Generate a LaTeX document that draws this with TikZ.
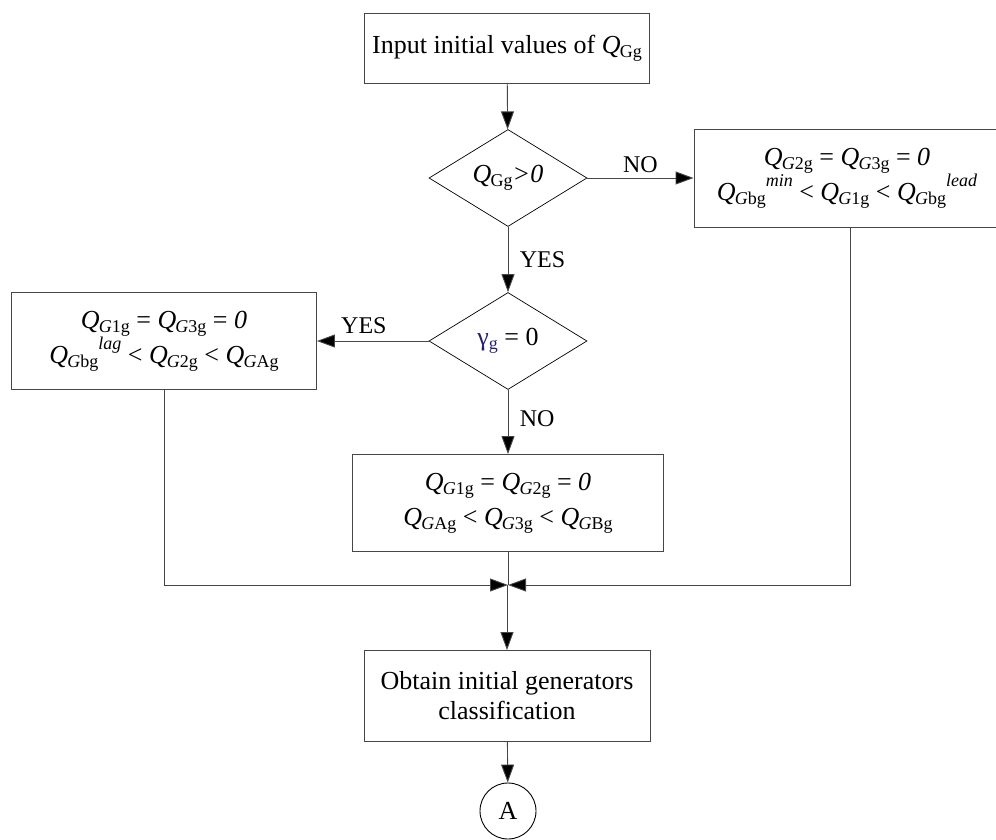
\documentclass[tikz,border=0pt]{standalone}
\usepackage{fontspec}
\setmainfont{Liberation Serif}
\usetikzlibrary{shapes.geometric,arrows.meta}
\newcommand\Qv[1]{\textit{Q}\kern-0.03em\raisebox{-0.32ex}{\fontsize{18}{18}\selectfont #1}}
\newcommand\supv[1]{\raisebox{1.15ex}{\fontsize{18}{18}\selectfont\textit{#1}}}
\newcommand\Gi{\textit{G}}
\definecolor{gblue}{RGB}{40,30,110}
\definecolor{lgray}{RGB}{70,70,70}
\begin{document}
\begin{tikzpicture}[x=1pt,y=-1pt,
  every node/.style={font=\fontsize{26}{30}\selectfont},
  box/.style={draw=lgray,line width=0.9pt,align=center,inner sep=0pt},
  dec/.style={draw=black,line width=0.7pt,diamond,inner sep=0pt,minimum width=158pt,minimum height=97pt,aspect=1.6},
  lbl/.style={font=\fontsize{24}{28}\selectfont},
  conn/.style={draw=lgray,line width=0.9pt},
  arr/.style={conn,-{Triangle[length=18pt,width=13pt,fill=black]}}]
\useasboundingbox (0,0) rectangle (996,840);
\node[box,minimum width=285pt,minimum height=70pt] (inp) at (507,48) {Input initial values of \Qv{Gg}};
\node[dec] (d1) at (508,178) {\Qv{Gg}\textit{>0}};
\node[box,minimum width=306pt,minimum height=98pt,font=\fontsize{26}{30}\selectfont] (rb) at (847,178) {\Qv{\Gi2g} = \Qv{\Gi3g} = \textit{0}\\\Qv{\Gi bg}\supv{min} < \Qv{\Gi1g} < \Qv{\Gi bg}\supv{lead}};
\node[dec] (d2) at (508,341) {\textcolor{gblue}{γ\raisebox{-0.32ex}{\fontsize{18}{18}\selectfont g}} = 0};
\node[box,minimum width=305pt,minimum height=97pt,font=\fontsize{26}{33}\selectfont] (lb) at (164,341) {\Qv{\Gi1g} = \Qv{\Gi3g} = \textit{0}\\\Qv{\Gi bg}\supv{lag} < \Qv{\Gi2g} < \Qv{\Gi Ag}};
\node[box,minimum width=311pt,minimum height=97pt,font=\fontsize{26}{35}\selectfont] (mb) at (508,503) {\Qv{\Gi1g} = \Qv{\Gi2g} = \textit{0}\\\Qv{\Gi Ag} < \Qv{\Gi3g} < \Qv{\Gi Bg}};
\coordinate (m) at (508,585);
\node[box,minimum width=286pt,minimum height=91pt] (ob) at (507,696) {Obtain initial generators\\classification};
\node[draw=black,line width=0.9pt,circle,minimum size=56pt,inner sep=0pt] (A) at (508,811) {A};
\coordinate (lc) at (164,585);
\coordinate (rc) at (850,585);
\draw[arr] (inp) -- (d1);
\draw[arr] (d1) -- node[lbl,above=1pt] {NO} (rb);
\draw[arr] (d1) -- node[lbl,right=8pt] {YES} (d2);
\draw[arr] (d2) -- node[lbl,above=3pt,pos=0.58] {YES} (lb);
\draw[arr] (d2) -- node[lbl,right=8pt,pos=0.45] {NO} (mb);
\draw[conn] (mb) -- (m);
\draw[arr] (lb.south) -- (lc) -- (m);
\draw[arr] (rb.south -| rc) -- (rc) -- (m);
\draw[arr] (m -| ob) -- (ob);
\draw[arr] (ob) -- (A);
\end{tikzpicture}
\end{document}
